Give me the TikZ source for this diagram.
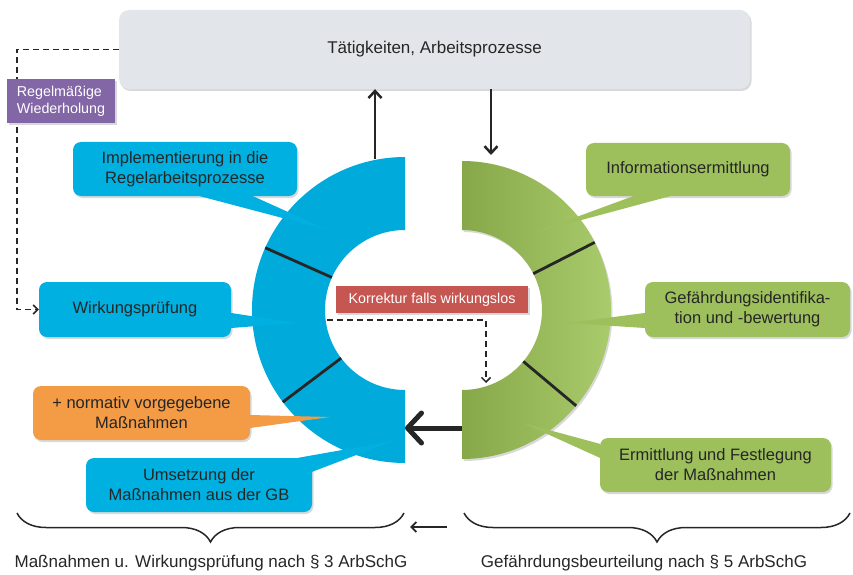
\documentclass[tikz,border=0pt]{standalone}
\usepackage{fontspec}
\setmainfont{Liberation Sans}
\usetikzlibrary{arrows.meta,decorations.pathreplacing,shadows}
\definecolor{cblue}{HTML}{00B0E0}
\definecolor{rblue}{HTML}{00AADA}
\definecolor{cgreen}{HTML}{9DC05C}
\definecolor{rgreenL}{HTML}{86A849}
\definecolor{rgreenR}{HTML}{AACB6C}
\definecolor{corange}{HTML}{F39B45}
\definecolor{cpurple}{HTML}{8366A6}
\definecolor{cred}{HTML}{C65651}
\definecolor{cgray}{HTML}{E2E5EA}
\definecolor{ctext}{HTML}{262626}
\begin{document}
\begin{tikzpicture}[x=1pt,y=1pt,
    shade/.style={drop shadow={shadow xshift=1.5pt,shadow yshift=-2pt,opacity=0.3}},
    callout/.style={shade,rounded corners=8pt,inner sep=0pt,align=center,
      text=ctext,font=\fontsize{16.5}{20}\selectfont},
    bluebox/.style={callout,fill=cblue},
    greenbox/.style={callout,fill=cgreen},
    orangebox/.style={callout,fill=corange},
    tagbox/.style={shade,inner sep=0pt,text=white,font=\fontsize{14.3}{17}\selectfont},
    divider/.style={line width=2.8pt,ctext},
    flow/.style={line width=2.5pt,ctext,-{Straight Barb[length=7pt,width=13pt]}},
    loop/.style={line width=1.5pt,ctext,dash pattern=on 6pt off 4pt,
      -{Straight Barb[length=4.5pt,width=9pt]}},
    brace/.style={line width=1.5pt,ctext,decorate,
      decoration={brace,mirror,amplitude=29pt}}]
  \useasboundingbox (0,0) rectangle (853,574);

  \begin{scope}[shift={(405,264)}]
    \fill[rblue] (90:153) arc[start angle=90,end angle=270,radius=153]
      -- (270:80) arc[start angle=270,end angle=90,radius=80] -- cycle;
    \draw[divider] (156:80) -- (156:153);
    \draw[divider] (217:80) -- (217:153);
  \end{scope}
  \begin{scope}[shift={(462,264)}]
    \shade[left color=rgreenL,right color=rgreenR] (90:149)
      arc[start angle=90,end angle=-90,radius=149]
      -- (-90:80) arc[start angle=-90,end angle=90,radius=80] -- cycle;
    \draw[divider] (27:80) -- (27:149);
    \draw[divider] (-40:80) -- (-40:149);
  \end{scope}

  \node[shade,fill=cgray,rounded corners=10pt,minimum width=631pt,minimum height=79pt,
    text=ctext,font=\fontsize{17}{20}\selectfont] (work) at (434.5,524.5)
    {Tätigkeiten, Arbeitsprozesse};

  \node[bluebox,minimum width=224pt,minimum height=54pt] (impl) at (185,405)
    {Implementierung in die\\Regelarbeitsprozesse};
  \node[bluebox,minimum width=192pt,minimum height=55pt] (wirk) at (135,264.5)
    {Wirkungsprüfung};
  \node[orangebox,minimum width=217pt,minimum height=54pt] (norm) at (141.5,161)
    {+ normativ vorgegebene\\Maßnahmen};
  \node[bluebox,minimum width=226pt,minimum height=54pt] (ums) at (199,89)
    {Umsetzung der\\Maßnahmen aus der GB};
  \node[greenbox,minimum width=204pt,minimum height=53pt] (info) at (688,404.5)
    {Informationsermittlung};
  \node[greenbox,minimum width=205pt,minimum height=55pt] (gef) at (747.5,264.5)
    {Gefährdungsidentifika-\\tion und -bewertung};
  \node[greenbox,minimum width=231pt,minimum height=54pt] (ermi) at (715.5,109)
    {Ermittlung und Festlegung\\der Maßnahmen};

  \draw[loop] (work.west) -- ++(-102,0) |- (wirk.west);

  \node[tagbox,fill=cpurple,minimum width=108pt,minimum height=44pt,align=left]
    (wdh) at (61,473) {Regelmäßige\\Wiederholung};
  \node[tagbox,fill=cred,minimum width=192pt,minimum height=27pt]
    (korr) at (432,274.5) {Korrektur falls wirkungslos};

  \coordinate (implTip) at (328,344);
  \coordinate (wirkTip) at (297,251);
  \coordinate (normTip) at (330,157);
  \coordinate (umsTip) at (393,133);
  \coordinate (infoTip) at (533,341);
  \coordinate (gefTip) at (567,251);
  \coordinate (ermiTip) at (523,151);
  \fill[cblue] ([xshift=15pt]impl.south) -- (implTip) -- ([xshift=68pt]impl.south) -- cycle;
  \fill[cblue] ([yshift=-3.5pt]wirk.east) -- (wirkTip) -- ([yshift=-18.5pt]wirk.east) -- cycle;
  \fill[corange] ([yshift=-2pt]norm.east) -- (normTip) -- ([yshift=-15pt]norm.east) -- cycle;
  \fill[cblue] ([xshift=-14pt]ums.north east) -- (umsTip) -- ([yshift=-14pt]ums.north east) -- cycle;
  \fill[cgreen] ([xshift=-55pt]info.south) -- (infoTip) -- ([xshift=-18pt]info.south) -- cycle;
  \fill[cgreen] ([yshift=-3.5pt]gef.west) -- (gefTip) -- ([yshift=-18.5pt]gef.west) -- cycle;
  \fill[cgreen] ([yshift=-6pt]ermi.north west) -- (ermiTip) -- ([yshift=-20pt]ermi.north west) -- cycle;

  \coordinate (blueTop) at (375,415);
  \coordinate (greenTop) at (491,419);
  \draw[flow] (blueTop) -- (blueTop |- work.south);
  \draw[flow] (greenTop |- work.south) -- (greenTop);

  \coordinate (kStart) at (327,254);
  \coordinate (kEnd) at (486,191);
  \draw[loop] (kStart) -| (kEnd);

  \coordinate (greenLeft) at (462,146);
  \coordinate (blueRight) at (405,146);
  \draw[line width=5pt,ctext,-{Straight Barb[length=14pt,width=30pt,round]}]
    (greenLeft) -- (blueRight);

  \coordinate (backStart) at (447,47);
  \coordinate (backEnd) at (410,47);
  \draw[line width=1.8pt,ctext,-{Straight Barb[length=5pt,width=10pt]}] (backStart) -- (backEnd);

  \coordinate (lbA) at (17,61);
  \coordinate (lbB) at (404,61);
  \coordinate (rbA) at (464,61);
  \coordinate (rbB) at (850,61);
  \draw[brace] (lbA) -- (lbB);
  \draw[brace] (rbA) -- (rbB);

  \node[text=ctext,font=\fontsize{17}{20}\selectfont] (massn) at (211,11)
    {Maßnahmen u. Wirkungsprüfung nach § 3 ArbSchG};
  \node[text=ctext,font=\fontsize{17}{20}\selectfont] (gbu) at (644,11)
    {Gefährdungsbeurteilung nach § 5 ArbSchG};
\end{tikzpicture}
\end{document}
